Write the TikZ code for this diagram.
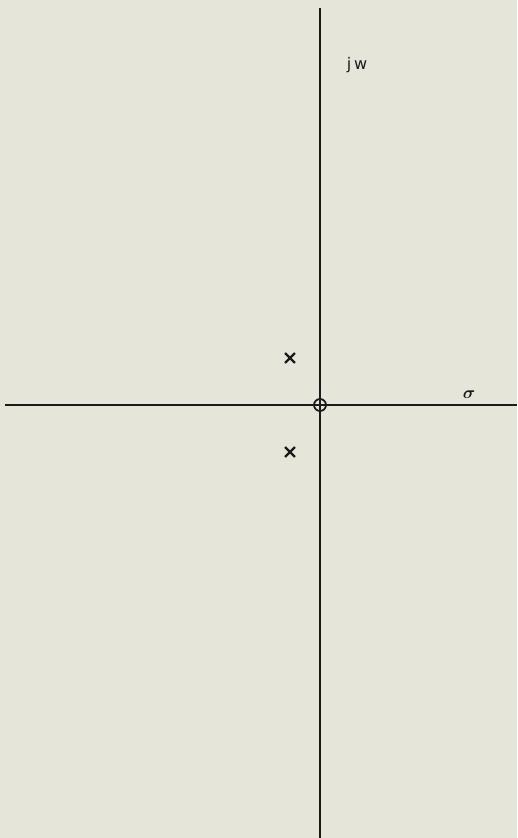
\documentclass[tikz,border=0pt]{standalone}
\usepackage{amsmath}
\usepackage{fontspec}
\setsansfont{DejaVu Sans}
\usetikzlibrary{shapes.misc}
\definecolor{paper}{HTML}{E6E5DA}
\definecolor{ink}{HTML}{1A1A1A}
\tikzset{
  axis/.style={draw=ink, line width=1.8pt},
  pole/.style={cross out, draw=ink, line width=2.4pt, minimum size=7.5pt, inner sep=0pt},
  zero/.style={circle, draw=ink, line width=1.8pt, minimum size=12pt, inner sep=0pt},
  lbl/.style={text=ink, inner sep=0pt}
}
\begin{document}
\begin{tikzpicture}[x=1pt,y=-1pt]
\fill[paper] (0,0) rectangle (517,838);
\useasboundingbox (0,0) rectangle (517,838);
\coordinate (top) at (320,8);
\coordinate (bot) at (320,838);
\coordinate (left) at (5,405);
\coordinate (right) at (517,405);
\draw[axis] (top) -- (bot);
\draw[axis] (left) -- (right);
\node[zero] (z) at (320,405) {};
\node[pole] (p1) at (290,358) {};
\node[pole] (p2) at (290,452) {};
\node[lbl, font=\sffamily\fontsize{16}{16}\selectfont] (jw) at (357,65) {j\,w};
\node[lbl, font=\fontsize{18}{18}\selectfont] (sig) at (469,395) {$\boldsymbol{\sigma}$};
\end{tikzpicture}
\end{document}
